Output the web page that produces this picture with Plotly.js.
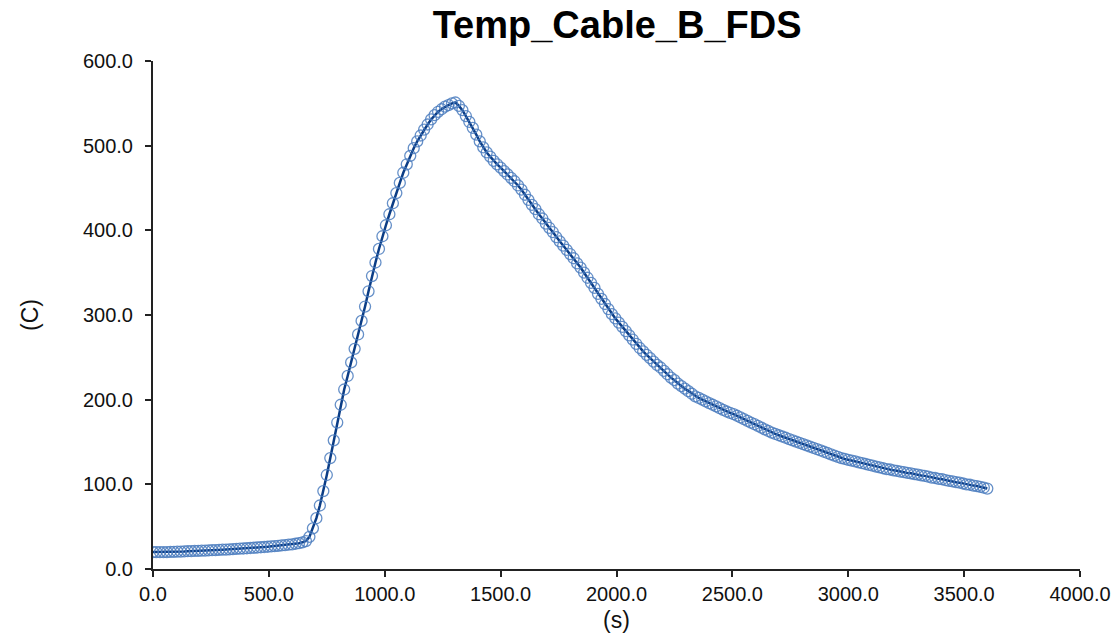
<!DOCTYPE html>
<html>
<head>
<meta charset="utf-8">
<script src="https://cdn.plot.ly/plotly-3.0.1.min.js"></script>
<style>html,body{margin:0;padding:0;background:#fff;}#chart{width:1120px;height:642px;}</style>
</head>
<body>
<div id="chart"></div>
<script>
// Time (s), sampled every 15 s
const timeS = [];
for (let i = 0; i <= 240; i++) timeS.push(i * 15);

// Temperature (C)
const tempC = [
20,20,20,20,20,20.2,20.3,20.5,20.6,20.8,
21,21.1,21.3,21.4,21.6,21.8,22,22.2,22.4,22.6,
22.8,23,23.2,23.5,23.7,24,24.2,24.5,24.8,25.1,
25.4,25.7,26,26.3,26.7,27,27.4,27.8,28.2,28.7,
29.2,29.8,30.5,31.5,33,38,48,60,75,92,
111,131,152,173,194,212,228,244,260,277,
293,310,328,346,362,378,393,406,419,432,
444,456,468,478,488,497,505,512,519,525,
531,536,540,543,546,548,550,551,547,542,
535,528,521,513,505,498,492,487,482,478,
474,470,466,462,458,453,448,442,436,430,
425,419,414,408,403,398,392,387,382,377,
372,367,361,356,350,344,338,332,325,319,
313,307,301,296,291,286,281,276,271,266,
261,257,253,249,245,241,238,234,230,226,
223,219,216,213,210,207,204,202,200,198,
196,194,192,190,188,186,184.5,183,181,179,
177,175,173,171,169,167,165,163,161,159.5,
158,156.5,155,153.5,152,150.5,149,147.5,146,144.5,
143,141.5,140,138.5,137,135.5,134,132.5,131,130,
129,128,127,126,125,124,123,122,121,120,
119,118,117.5,116.5,116,115,114.5,113.5,113,112,
111.5,110.5,110,109,108,107.5,106.5,106,105,104,
103.5,102.5,102,101,100,99.5,98.5,98,97,96,
95
];

const chartTitle = 'Temp_Cable_B_FDS';
const xTitle = '(s)';
const yTitle = '(C)';

const FONT = 'Liberation Sans, Arial, sans-serif';

const trace = {
  x: timeS,
  y: tempC,
  type: 'scatter',
  mode: 'lines+markers',
  line: {color: '#0b3d86', width: 2.5},
  marker: {symbol: 'circle-open', size: 11, color: 'rgba(75,125,190,0.85)', line: {width: 1.3}},
  showlegend: false,
  hoverinfo: 'x+y'
};

const axisCommon = {
  showgrid: false,
  zeroline: false,
  showline: true,
  linecolor: '#222',
  linewidth: 2,
  ticks: 'outside',
  ticklen: 6,
  tickwidth: 2,
  tickcolor: '#222',
  tickformat: '.1f',
  tickfont: {family: FONT, size: 20, color: '#111'}
};

const layout = {
  width: 1120,
  height: 642,
  paper_bgcolor: '#fff',
  plot_bgcolor: '#fff',
  margin: {l: 153, r: 40, t: 61, b: 73},
  title: {text: '<b>' + chartTitle + '</b>', font: {family: FONT, size: 38, color: '#000'}, x: 0.551, xanchor: 'center', y: 0.962, yanchor: 'middle'},
  xaxis: Object.assign({}, axisCommon, {
    range: [0, 4000], dtick: 500, tick0: 0,
    ticklabelstandoff: 0,
    title: {text: xTitle, font: {family: FONT, size: 23, color: '#111'}, standoff: 8}
  }),
  yaxis: Object.assign({}, axisCommon, {
    range: [0, 600], dtick: 100, tick0: 0,
    ticklabelstandoff: 8,
    title: {text: yTitle, font: {family: FONT, size: 23, color: '#111'}, standoff: 38}
  })
};

Plotly.newPlot('chart', [trace], layout, {displayModeBar: false, staticPlot: true});
</script>
</body>
</html>
